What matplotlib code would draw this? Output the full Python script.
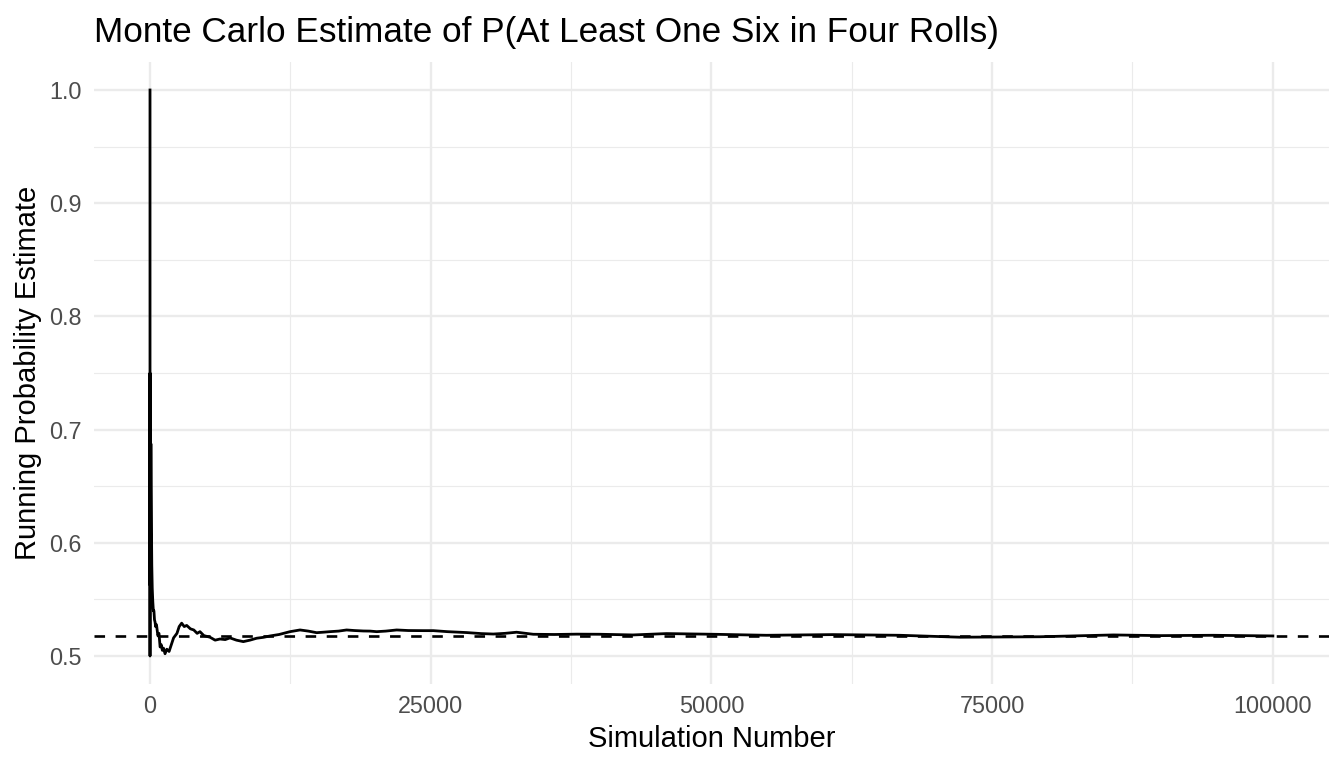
import matplotlib
matplotlib.use("Agg")
import matplotlib.pyplot as plt

# ---- data ----
sim_n = [1, 2, 3, 4, 5, 6, 8, 10, 13, 16, 20, 25, 30, 40, 50, 60, 80, 100, 130, 160,
         200, 250, 300, 350, 400, 450, 500, 550, 600, 700, 800, 900, 1000, 1100, 1200,
         1340, 1500, 1700, 1900, 2100, 2400, 2600, 2820, 3050, 3270, 3600, 3900, 4200,
         4450, 4800, 5340, 5800, 6230, 6700, 7120, 7700, 8310, 8900, 9500, 10100, 10690,
         11500, 12470, 13360, 14100, 14840, 15400, 16030, 16800, 17510, 18200, 19000,
         19600, 20190, 21000, 21970, 23000, 24320, 25230, 26500, 28200, 29500, 30570,
         31600, 32650, 34130, 36000, 38000, 40070, 43010, 46000, 50150, 54900, 60800,
         66790, 72130, 79250, 85800, 90000, 94700, 100000]
running_est = [1.0, 0.5, 0.667, 0.75, 0.6, 0.667, 0.625, 0.6, 0.615, 0.5625, 0.6, 0.64,
               0.6, 0.575, 0.62, 0.6, 0.6875, 0.65, 0.615, 0.58, 0.56, 0.548, 0.54, 0.54,
               0.532, 0.53, 0.526, 0.528, 0.526, 0.518, 0.52, 0.508, 0.51, 0.505, 0.507,
               0.502, 0.506, 0.504, 0.51, 0.516, 0.52, 0.526, 0.529, 0.526, 0.527, 0.524,
               0.523, 0.52, 0.5215, 0.518, 0.5166, 0.514, 0.515, 0.5145, 0.516, 0.514,
               0.5127, 0.514, 0.5157, 0.5165, 0.5177, 0.519, 0.5215, 0.523, 0.522, 0.5206,
               0.521, 0.5215, 0.522, 0.523, 0.5225, 0.5221, 0.522, 0.5215, 0.522, 0.523,
               0.5225, 0.5224, 0.5224, 0.5215, 0.5207, 0.5198, 0.5194, 0.520, 0.521,
               0.5192, 0.519, 0.5193, 0.5192, 0.5186, 0.5198, 0.5192, 0.5183, 0.5189,
               0.5183, 0.5166, 0.517, 0.5186, 0.518, 0.5183, 0.5177]
true_prob = 1 - (5 / 6) ** 4

x_ticks = [0, 25000, 50000, 75000, 100000]
x_tick_labels = ["0", "25000", "50000", "75000", "100000"]
y_ticks = [0.5, 0.6, 0.7, 0.8, 0.9, 1.0]
y_tick_labels = ["0.5", "0.6", "0.7", "0.8", "0.9", "1.0"]

title = "Monte Carlo Estimate of P(At Least One Six in Four Rolls)"
x_title = "Simulation Number"
y_title = "Running Probability Estimate"

# ---- figure ----
plt.rcParams['font.family'] = ['Liberation Sans', 'DejaVu Sans']
W, H = 1344, 768
fig = plt.figure(figsize=(W / 100, H / 100), dpi=100)
L, R, B, T = 93.85, 1329.0, 684.3, 61.7
ax = fig.add_axes([L / W, 1 - B / H, (R - L) / W, (B - T) / H])

grid_col = "#EBEBEB"
ax.set_xlim(-5000, 105000)
ax.set_ylim(0.475, 1.025)
ax.set_xticks(x_ticks)
ax.set_xticklabels(x_tick_labels)
ax.set_yticks(y_ticks)
ax.set_yticklabels(y_tick_labels)
ax.set_xticks([12500, 37500, 62500, 87500], minor=True)
ax.set_yticks([0.55, 0.65, 0.75, 0.85, 0.95], minor=True)
ax.grid(which="major", color=grid_col, linewidth=1.7)
ax.grid(which="minor", color=grid_col, linewidth=0.85)
ax.set_axisbelow(True)
for s in ax.spines.values():
    s.set_visible(False)
ax.tick_params(which="both", length=0)
ax.tick_params(axis="y", labelsize=16.8, labelcolor="#4D4D4D", pad=9)
ax.tick_params(axis="x", labelsize=16.8, labelcolor="#4D4D4D", pad=8)

ax.plot(sim_n, running_est, color="black", linewidth=2.0, solid_joinstyle="round")
ax.axhline(true_prob, color="black", linewidth=1.9, linestyle=(0, (4, 4)))

fig.text(L / W, 1 - 42.0 / H, title, ha="left", va="baseline", fontsize=25.3, color="black")
fig.text((L + R) / 2 / W, 1 - 747.0 / H, x_title, ha="center", va="baseline",
         fontsize=21, color="black")
fig.text(36.0 / W, 1 - (B + T) / 2 / H, y_title, ha="center", va="baseline",
         rotation=90, rotation_mode="anchor", fontsize=21, color="black")

fig.savefig("out.png", dpi=100, facecolor="white")
